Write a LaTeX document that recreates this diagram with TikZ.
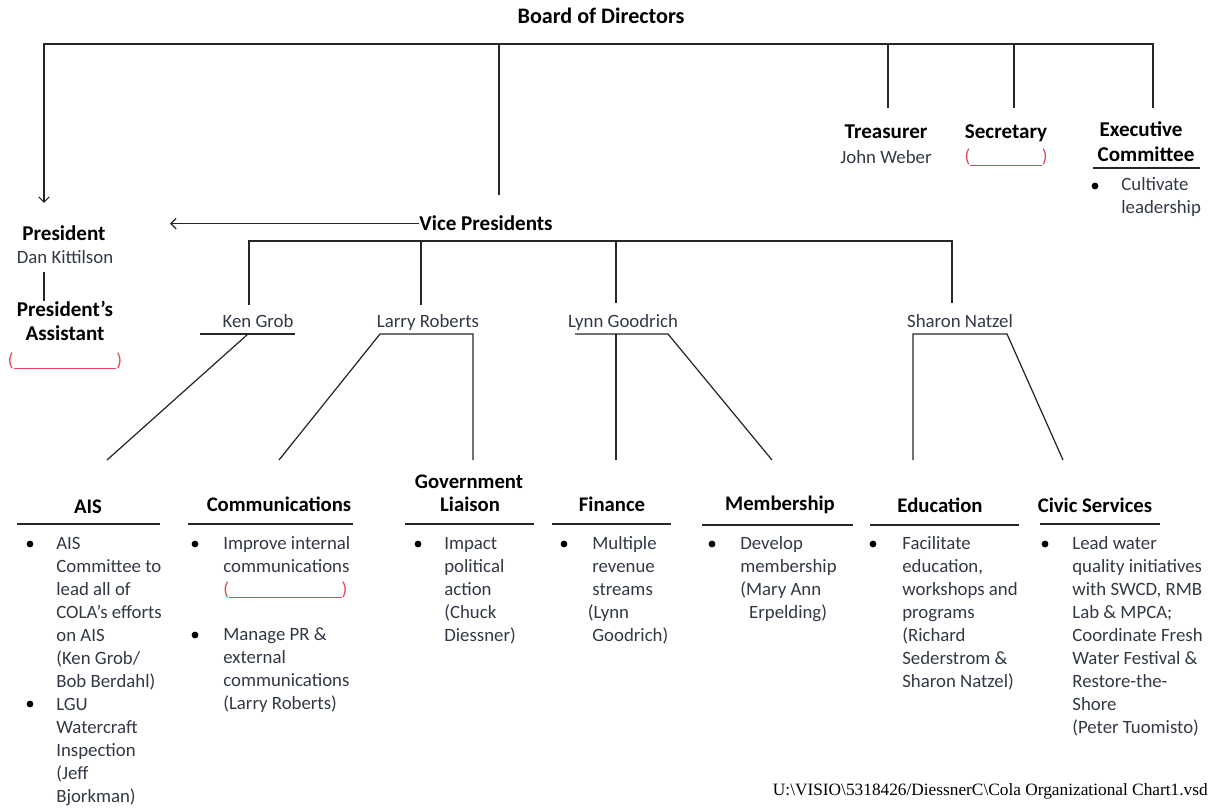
\documentclass[tikz,border=0pt]{standalone}
\usepackage{fontspec}
\setmainfont{Carlito}
\newfontfamily\pathfont{Liberation Serif}
\usepackage{xcolor}
\usetikzlibrary{arrows.meta, calc, positioning}

\definecolor{namegray}{RGB}{50,56,68}
\definecolor{blankred}{RGB}{226,72,90}

\tikzset{
    wire/.style={line width=0.7pt, draw=black!85},
    boardtitle/.style={font=\fontsize{12.6}{15}\selectfont\bfseries, anchor=base, inner sep=0pt},
    role/.style={font=\fontsize{12}{14}\selectfont\bfseries, anchor=base, inner sep=0pt},
    dept/.style={font=\fontsize{11.8}{14}\selectfont\bfseries, anchor=base, inner sep=0pt},
    person/.style={font=\fontsize{10.7}{13.1}\selectfont, text=namegray, anchor=base, inner sep=0pt},
    duties/.style={font=\fontsize{10.7}{13.1}\selectfont, text=namegray, align=left, anchor=north west, inner sep=0pt},
    blank/.style={font=\fontsize{10.7}{13.1}\selectfont, text=blankred, anchor=base, inner sep=0pt},
    bulletdot/.style={circle, fill=black, inner sep=0pt, minimum size=3.9pt}
}

\begin{document}
\begin{tikzpicture}[x=0.02cm, y=-0.02cm]
    \useasboundingbox (0,0) rectangle (1212,810);

    % board and its officers
    \node[boardtitle] (board) at (601,24) {Board of Directors};
    \coordinate (busL) at (44,44);
    \coordinate (busR) at (1153,44);
    \coordinate (presIn) at (44,203);
    \coordinate (vpIn) at (499,195);
    \coordinate (treasIn) at (888,108);
    \coordinate (secIn) at (1014,108);
    \coordinate (execIn) at (1153,108);

    \draw[wire, {Straight Barb[length=3pt,width=6pt]}-] (presIn) -- (busL) -- (busR) -- (execIn);
    \draw[wire] (vpIn |- busL) -- (vpIn);
    \draw[wire] (treasIn |- busL) -- (treasIn);
    \draw[wire] (secIn |- busL) -- (secIn);

    \node[role] (treas) at (886,139) {Treasurer};
    \node[person] (weber) at (886,164) {John Weber};
    \node[role] (sec) at (1006,139) {Secretary};
    \node[blank] (secblank) at (1006,163) {(\rule[-1.5pt]{40.7pt}{0.6pt})};
    \node[role] (exec) at (1141,137) {Executive};
    \node[role] (execb) at (1146,162) {Committee};
    \draw[wire] (1093,168) -- (1200,168);
    \node[bulletdot] (dot-exec) at (1095,186) {};
    \node[duties] (execlist) at (1121,174) {\strut Cultivate\\leadership};

    % president
    \node[role] (pres) at (64,241) {President};
    \node[person] (kittilson) at (65,264) {Dan Kittilson};
    \node[role] (asst) at (65,317) {President’s};
    \node[role] (asstb) at (65,340) {Assistant};
    \node[blank] (asstblank) at (65,366) {(\rule[-1.5pt]{58.4pt}{0.6pt})};
    \draw[wire] ($(kittilson.south -| presIn)+(0,8)$) -- (asst.north -| presIn);

    % vice presidents
    \node[role] (vp) at (486,231) {Vice Presidents};
    \coordinate (vpOut) at (170,225);
    \draw[wire, -{Straight Barb[length=3pt,width=6pt]}] (vp.west) -- (vp.west -| vpOut);

    \coordinate (vpbus) at (0,241);
    \coordinate (kenIn) at (249,305);
    \coordinate (larryIn) at (421,305);
    \coordinate (lynnIn) at (616,303);
    \coordinate (sharonIn) at (952,303);
    \draw[wire] (kenIn) -- (kenIn |- vpbus) -| (sharonIn);
    \draw[wire] (larryIn |- vpbus) -- (larryIn);
    \draw[wire] (lynnIn |- vpbus) -- (lynnIn);

    \node[person] (ken) at (258,328) {Ken Grob};
    \node[person] (larry) at (428,328) {Larry Roberts};
    \node[person] (lynn) at (623,328) {Lynn Goodrich};
    \node[person] (sharon) at (960,328) {Sharon Natzel};

    \coordinate (kenL) at (200,334);
    \coordinate (kenJ) at (248,334);
    \coordinate (kenR) at (295,334);
    \coordinate (larryL) at (380,334);
    \coordinate (larryR) at (473,334);
    \coordinate (lynnL) at (575,334);
    \coordinate (lynnJ) at (616,334);
    \coordinate (lynnR) at (668,334);
    \coordinate (sharonL) at (913,334);
    \coordinate (sharonR) at (1007,334);

    \coordinate (aisIn) at (107,460);
    \coordinate (commIn) at (279,460);
    \coordinate (govIn) at (473,460);
    \coordinate (finIn) at (616,460);
    \coordinate (memIn) at (772,460);
    \coordinate (eduIn) at (913,460);
    \coordinate (civIn) at (1063,460);

    \draw[wire] (kenL) -- (kenR);
    \draw[wire] (kenJ) -- (aisIn);
    \draw[wire] (commIn) -- (larryL) -- (larryR) -- (govIn);
    \draw[wire] (lynnL) -- (lynnR) -- (memIn);
    \draw[wire] (lynnJ) -- (finIn);
    \draw[wire] (eduIn) -- (sharonL) -- (sharonR) -- (civIn);

    % committees
    \node[dept] (ais) at (88,513) {AIS};
    \node[dept] (comms) at (279,511) {Communications};
    \node[dept] (gov) at (469,488) {Government};
    \node[dept] (govb) at (470,511) {Liaison};
    \node[dept] (fin) at (612,511) {Finance};
    \node[dept] (mem) at (780,510) {Membership};
    \node[dept] (edu) at (940,512) {Education};
    \node[dept] (civic) at (1095,512) {Civic Services};

    \foreach \a/\b/\y in {17/160/524, 188/353/524, 405/534/524, 552/671/524,
                          702/853/525, 870/1019/525, 1040/1160/524}
        \draw[wire] (\a,\y) -- (\b,\y);

    \foreach \x/\y/\n in {30/544/ais1, 30/704/ais2, 195/544/comm1, 195/635/comm2,
                          418/544/gov, 564/544/fin, 712/544/mem, 873/544/edu, 1045/544/civ}
        \node[bulletdot] (dot-\n) at (\x,\y) {};

    \node[duties] (aislist) at (56,533) {\strut AIS\\Committee to\\lead all of\\COLA’s efforts\\on AIS\\(Ken Grob/\\Bob Berdahl)\\LGU\\Watercraft\\Inspection\\(Jeff\\Bjorkman)};
    \node[duties] (commlist) at (223,533) {\strut Improve internal\\communications};
    \node[blank, anchor=base west] (commblank) at (223,595) {(\rule[-1.5pt]{64pt}{0.6pt})};
    \node[duties] (commlistb) at (223,624) {\strut Manage PR \&\\external\\communications\\(Larry Roberts)};
    \node[duties] (govlist) at (444,533) {\strut Impact\\political\\action\\(Chuck\\Diessner)};
    \node[duties] (finlist) at (592,533) {\strut Multiple\\revenue\\streams\\\hspace*{-2.5pt}(Lynn\\Goodrich)};
    \node[duties] (memlist) at (740,533) {\strut Develop\\membership\\(Mary Ann\\\hspace*{5pt}Erpelding)};
    \node[duties] (edulist) at (902,533) {\strut Facilitate\\education,\\workshops and\\programs\\(Richard\\Sederstrom \&\\Sharon Natzel)};
    \node[duties] (civlist) at (1072,533) {\strut Lead water\\quality initiatives\\with SWCD, RMB\\Lab \& MPCA;\\Coordinate Fresh\\Water Festival \&\\Restore-the-\\Shore\\(Peter Tuomisto)};

    % file path
    \node[anchor=base east, inner sep=0pt, font=\pathfont\fontsize{9.85}{12}\selectfont] (path) at (1208,795)
        {U:\textbackslash VISIO\textbackslash 5318426/DiessnerC\textbackslash Cola Organizational Chart1.vsd};

\end{tikzpicture}
\end{document}
